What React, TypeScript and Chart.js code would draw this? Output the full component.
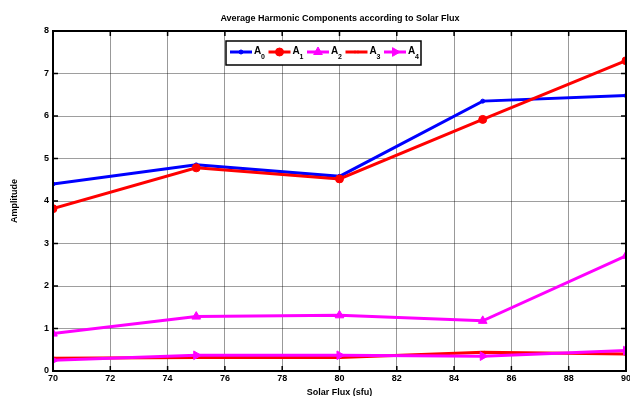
import React, { useEffect, useRef } from "react";
import { Chart, registerables } from "chart.js";
import { drawPoint } from "chart.js/helpers";

Chart.register(...registerables);

const fluxValues = [70, 75, 80, 85, 90];
const a0 = [4.4, 4.85, 4.58, 6.35, 6.48];
const a1 = [3.82, 4.78, 4.52, 5.92, 7.3];
const a2 = [0.88, 1.28, 1.31, 1.18, 2.71];
const a3 = [0.3, 0.32, 0.32, 0.44, 0.4];
const a4 = [0.25, 0.37, 0.37, 0.35, 0.48];
const seriesNames = ["0", "1", "2", "3", "4"];
const xTicks = [70, 72, 74, 76, 78, 80, 82, 84, 86, 88, 90];
const yTicks = [0, 1, 2, 3, 4, 5, 6, 7, 8];

const FONT = "'Liberation Sans', Arial, sans-serif";

const styles = [
  { color: "#0000ff", pointStyle: "circle", radius: 2, rotation: 0 },
  { color: "#ff0000", pointStyle: "circle", radius: 4, rotation: 0 },
  { color: "#ff00ff", pointStyle: "triangle", radius: 5, rotation: 0 },
  { color: "#ff0000", pointStyle: "crossRot", radius: 2, rotation: 0 },
  { color: "#ff00ff", pointStyle: "triangle", radius: 5, rotation: 90 },
];

const frameAndLegend = {
  id: "frameAndLegend",
  afterDraw(chart: any) {
    const { ctx, chartArea } = chart;
    const { left, right, top, bottom } = chartArea;
    const xs = chart.scales.x;
    const ys = chart.scales.y;
    ctx.save();
    ctx.strokeStyle = "#000";
    ctx.lineWidth = 2;
    ctx.strokeRect(left, top, right - left, bottom - top);
    ctx.lineWidth = 1.5;
    ctx.beginPath();
    xTicks.forEach((t) => {
      const px = xs.getPixelForValue(t);
      ctx.moveTo(px, bottom);
      ctx.lineTo(px, bottom - 5);
      ctx.moveTo(px, top);
      ctx.lineTo(px, top + 5);
    });
    yTicks.forEach((t) => {
      const py = ys.getPixelForValue(t);
      ctx.moveTo(left, py);
      ctx.lineTo(left + 5, py);
      ctx.moveTo(right, py);
      ctx.lineTo(right - 5, py);
    });
    ctx.stroke();

    // legend
    const lx = 226, ly = 41, lw = 195, lh = 24;
    ctx.fillStyle = "#fff";
    ctx.fillRect(lx, ly, lw, lh);
    ctx.lineWidth = 1.5;
    ctx.strokeStyle = "#000";
    ctx.strokeRect(lx, ly, lw, lh);
    const cy = ly + lh / 2 - 1;
    seriesNames.forEach((n, i) => {
      const x0 = 230 + i * 38.5;
      const st = styles[i];
      ctx.strokeStyle = st.color;
      ctx.lineWidth = 3;
      ctx.beginPath();
      ctx.moveTo(x0, cy);
      ctx.lineTo(x0 + 22, cy);
      ctx.stroke();
      ctx.fillStyle = st.color;
      ctx.lineWidth = 1;
      drawPoint(ctx, {
        pointStyle: st.pointStyle,
        radius: st.radius,
        rotation: st.rotation,
        borderWidth: 1,
      } as any, x0 + 11, cy);
      ctx.fillStyle = "#000";
      ctx.font = "bold 10px " + FONT;
      ctx.textBaseline = "middle";
      ctx.textAlign = "left";
      ctx.fillText("A", x0 + 24, cy - 1);
      ctx.font = "bold 7px " + FONT;
      ctx.fillText(n, x0 + 31, cy + 5);
    });
    ctx.restore();
  },
};

export default function App() {
  const ref = useRef<HTMLCanvasElement>(null);
  useEffect(() => {
    const allSeries = [a0, a1, a2, a3, a4];
    const chart = new Chart(ref.current!, {
      type: "line",
      data: {
        datasets: allSeries.map((s, i) => ({
          label: "A" + seriesNames[i],
          data: s.map((v, j) => ({ x: fluxValues[j], y: v })),
          borderColor: styles[i].color,
          backgroundColor: styles[i].color,
          borderWidth: 3,
          pointStyle: styles[i].pointStyle as any,
          pointRadius: styles[i].radius,
          pointRotation: styles[i].rotation,
          pointBorderWidth: 1,
          tension: 0,
          order: 4 - i,
        })),
      },
      options: {
        animation: false,
        responsive: false,
        maintainAspectRatio: false,
        layout: { padding: { top: 31, right: 0, left: 0, bottom: -2 } },
        plugins: {
          legend: { display: false },
          tooltip: { enabled: false },
          title: { display: false },
        },
        scales: {
          x: {
            type: "linear",
            min: 70,
            max: 90,
            afterBuildTicks: (s: any) => {
              s.ticks = xTicks.map((v) => ({ value: v }));
            },
            afterFit: (s: any) => {
              s.height = 27;
            },
            ticks: {
              color: "#000",
              font: { family: FONT, size: 9, weight: "bold" },
              padding: 2,
              maxRotation: 0,
            },
            grid: { color: "rgba(0,0,0,0.4)", lineWidth: 1, tickLength: 0 },
            border: { display: false },
            title: {
              display: true,
              text: "Solar Flux (sfu)",
              color: "#000",
              font: { family: FONT, size: 9, weight: "bold" },
              padding: { top: 0, bottom: 0 },
            },
          },
          y: {
            min: 0,
            max: 8,
            afterBuildTicks: (s: any) => {
              s.ticks = yTicks.map((v) => ({ value: v }));
            },
            afterFit: (s: any) => {
              s.width = 53;
            },
            ticks: {
              color: "#000",
              font: { family: FONT, size: 9, weight: "bold" },
              padding: 4,
            },
            grid: { color: "rgba(0,0,0,0.38)", lineWidth: 1, tickLength: 0 },
            border: { display: false },
            title: {
              display: true,
              text: "Amplitude",
              color: "#000",
              font: { family: FONT, size: 9, weight: "bold" },
              padding: { top: 9, bottom: 0 },
            },
          },
        },
      },
      plugins: [frameAndLegend],
    });
    return () => chart.destroy();
  }, []);
  return (
    <div style={{ position: "absolute", left: 0, top: 0, width: 630, height: 396, background: "#fff", overflow: "hidden" }}>
      <div
        style={{
          position: "absolute",
          left: 0,
          top: 13,
          width: 680,
          textAlign: "center",
          fontFamily: FONT,
          fontWeight: "bold",
          fontSize: 9,
          lineHeight: "11px",
          color: "#000",
        }}
      >
        Average Harmonic Components according to Solar Flux
      </div>
      <canvas ref={ref} width={633} height={396} style={{ display: "block" }} />
    </div>
  );
}
